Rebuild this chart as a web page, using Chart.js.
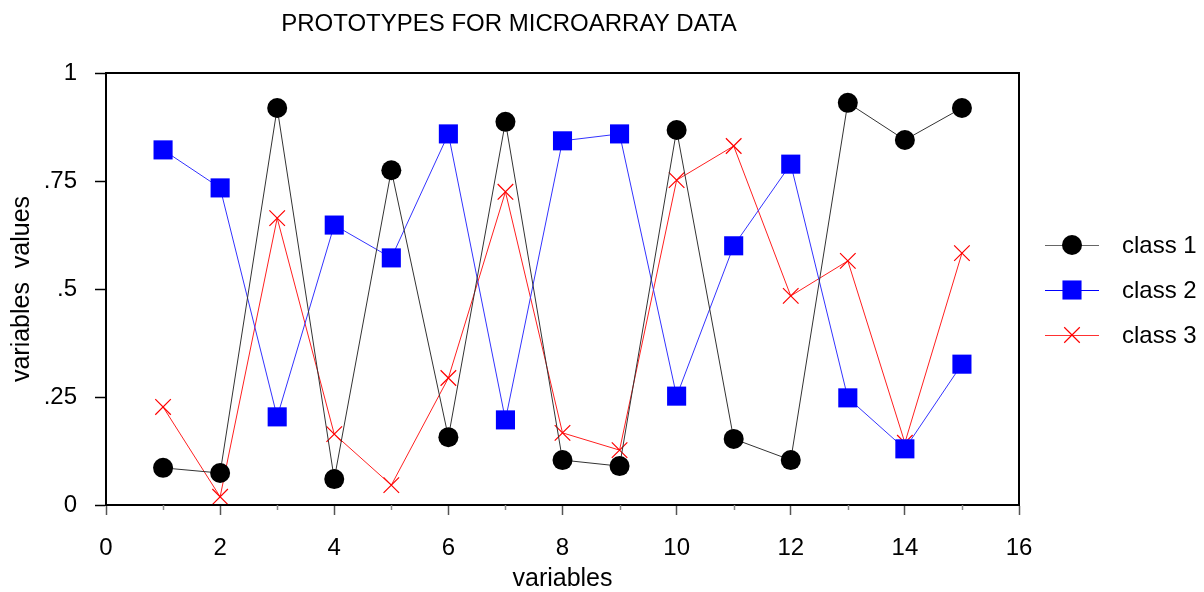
<!DOCTYPE html>
<html>
<head>
<meta charset="utf-8">
<script src="https://cdn.jsdelivr.net/npm/chart.js@4"></script>
<style>
  html, body { margin: 0; padding: 0; background: #fff; }
  #wrap { width: 1204px; height: 592px; }
</style>
</head>
<body>
<div id="wrap"><canvas id="protoChart"></canvas></div>
<script>
// values
const variables = [1, 2, 3, 4, 5, 6, 7, 8, 9, 10, 11, 12, 13, 14, 15];
const class1 = [0.086, 0.074, 0.919, 0.060, 0.775, 0.157, 0.887, 0.104, 0.090, 0.868, 0.153, 0.104, 0.931, 0.845, 0.919];
const class2 = [0.822, 0.734, 0.204, 0.648, 0.572, 0.859, 0.197, 0.843, 0.859, 0.252, 0.600, 0.789, 0.248, 0.130, 0.326];
const class3 = [0.227, 0.019, 0.664, 0.164, 0.046, 0.294, 0.725, 0.167, 0.127, 0.752, 0.831, 0.484, 0.565, 0.144, 0.583];
const yTickLabels = { 0: '0', 0.25: '.25', 0.5: '.5', 0.75: '.75', 1: '1' };

const FONT = "'Liberation Sans', Arial, sans-serif";

function toPoints(vals) {
    return variables.map((v, i) => ({ x: v, y: vals[i] }));
}

// frame, title, minor ticks and legend
const decorPlugin = {
    id: 'decor',
    afterDraw(chart) {
        const ctx = chart.ctx;
        const area = chart.chartArea;
        const xs = chart.scales.x;
        ctx.save();
        ctx.strokeStyle = '#000';
        ctx.lineWidth = 2;
        ctx.strokeRect(area.left, area.top, area.right - area.left, area.bottom - area.top);

        // minor ticks on x at odd values
        ctx.strokeStyle = '#888';
        ctx.lineWidth = 1.5;
        for (let v = 1; v < 16; v += 2) {
            const px = Math.round(xs.getPixelForValue(v)) + 0.5;
            ctx.beginPath();
            ctx.moveTo(px, area.bottom);
            ctx.lineTo(px, area.bottom + 5);
            ctx.stroke();
        }

        // title
        ctx.fillStyle = '#000';
        ctx.font = '24px ' + FONT;
        ctx.textAlign = 'center';
        ctx.textBaseline = 'middle';
        ctx.fillText('PROTOTYPES FOR MICROARRAY DATA', 509, 24);

        // legend
        const rows = [245, 290, 335];
        chart.data.datasets.forEach((ds, i) => {
            const y = rows[i];
            ctx.beginPath();
            ctx.strokeStyle = ds.legendLine;
            ctx.lineWidth = 1.2;
            ctx.moveTo(1045, y + 0.5);
            ctx.lineTo(1099, y + 0.5);
            ctx.stroke();
            ctx.fillStyle = ds.pointBackgroundColor;
            ctx.strokeStyle = ds.pointBorderColor;
            ctx.lineWidth = ds.pointBorderWidth || 1;
            Chart.helpers.drawPoint(ctx, {
                pointStyle: ds.pointStyle,
                radius: ds.pointRadius,
                borderWidth: ds.pointBorderWidth
            }, 1072, y);
            ctx.fillStyle = '#000';
            ctx.font = '24px ' + FONT;
            ctx.textAlign = 'left';
            ctx.fillText(ds.label, 1122, y + 1);
        });
        ctx.restore();
    }
};

const ctx = document.getElementById('protoChart').getContext('2d');
const protoChart = new Chart(ctx, {
    type: 'scatter',
    data: {
        datasets: [{
            label: 'class 1',
            data: toPoints(class1),
            showLine: true,
            borderColor: '#333',
            borderWidth: 1,
            legendLine: '#666',
            pointStyle: 'circle',
            pointRadius: 10,
            pointBorderWidth: 0,
            pointBackgroundColor: '#000',
            pointBorderColor: '#000'
        }, {
            label: 'class 2',
            data: toPoints(class2),
            showLine: true,
            borderColor: '#3333ff',
            borderWidth: 1,
            legendLine: '#0000ff',
            pointStyle: 'rect',
            pointRadius: 13.5,
            pointBorderWidth: 0,
            pointBackgroundColor: '#0000ff',
            pointBorderColor: '#0000ff'
        }, {
            label: 'class 3',
            data: toPoints(class3),
            showLine: true,
            borderColor: '#ff2020',
            borderWidth: 1,
            legendLine: '#ff3030',
            pointStyle: 'crossRot',
            pointRadius: 11,
            pointBorderWidth: 1.2,
            pointBackgroundColor: '#ff0000',
            pointBorderColor: '#ff0000'
        }]
    },
    options: {
        responsive: true,
        maintainAspectRatio: false,
        animation: false,
        events: [],
        layout: {
            padding: { top: 73, right: 185, left: 0, bottom: 0 }
        },
        plugins: {
            legend: { display: false },
            tooltip: { enabled: false }
        },
        scales: {
            x: {
                type: 'linear',
                min: 0,
                max: 16,
                afterFit: function(scale) { scale.height = 87; },
                grid: {
                    drawOnChartArea: false,
                    tickLength: 10,
                    tickColor: '#555',
                    tickWidth: 1.5
                },
                border: { color: '#000', width: 2 },
                ticks: {
                    stepSize: 2,
                    padding: 19,
                    color: '#000',
                    font: { family: FONT, size: 24 }
                },
                title: {
                    display: true,
                    text: 'variables',
                    color: '#000',
                    padding: { top: 0, bottom: -2 },
                    font: { family: FONT, size: 25 }
                }
            },
            y: {
                min: 0,
                max: 1,
                afterFit: function(scale) { scale.width = 106; },
                grid: {
                    drawOnChartArea: false,
                    tickLength: 11,
                    tickColor: '#000',
                    tickWidth: 1.5
                },
                border: { color: '#000', width: 2 },
                ticks: {
                    stepSize: 0.25,
                    padding: 18,
                    color: '#000',
                    font: { family: FONT, size: 24 },
                    callback: function(value) { return yTickLabels[value]; }
                },
                title: {
                    display: true,
                    text: 'variables  values',
                    color: '#000',
                    padding: { top: 7, bottom: 0 },
                    font: { family: FONT, size: 25 }
                }
            }
        }
    },
    plugins: [decorPlugin]
});
</script>
</body>
</html>
